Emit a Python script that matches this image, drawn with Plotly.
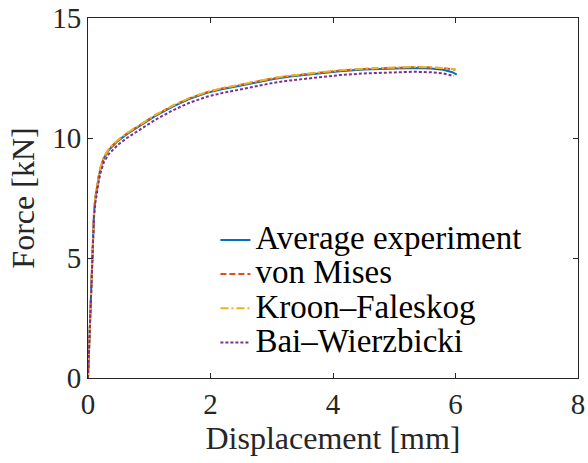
import plotly.graph_objects as go

# Average experiment
exp_d = [0, 0.02, 0.05, 0.075, 0.098, 0.12, 0.152, 0.18, 0.207, 0.26, 0.343, 0.48, 0.64, 0.87,
         1.1, 1.39, 1.65, 1.94, 2.2, 2.48, 2.75, 3.03, 3.3, 3.57, 3.85, 4.11, 4.5, 4.9, 5.31,
         5.6, 5.8, 5.95, 6.02]
exp_f = [0, 1.6, 4.0, 5.6, 6.87, 7.5, 8.05, 8.45, 8.75, 9.17, 9.51, 9.86, 10.17, 10.55,
         10.92, 11.32, 11.62, 11.88, 12.04, 12.18, 12.33, 12.46, 12.56, 12.64, 12.72, 12.78, 12.85, 12.89, 12.92,
         12.9, 12.84, 12.74, 12.64]

# von Mises
vm_d = [0, 0.02, 0.05, 0.075, 0.098, 0.12, 0.152, 0.18, 0.207, 0.26, 0.343, 0.48, 0.64, 0.87,
        1.1, 1.39, 1.65, 1.94, 2.2, 2.48, 2.75, 3.03, 3.3, 3.57, 3.85, 4.11, 4.5, 4.9, 5.31,
        5.6, 5.8, 6.0]
vm_f = [0, 1.6, 4.0, 5.6, 6.87, 7.52, 8.08, 8.48, 8.78, 9.2, 9.54, 9.89, 10.2, 10.58,
        10.95, 11.35, 11.65, 11.91, 12.07, 12.21, 12.36, 12.49, 12.59, 12.67, 12.75, 12.81, 12.88, 12.92, 12.95,
        12.94, 12.91, 12.84]

# Kroon-Faleskog
kf_d = [0, 0.02, 0.05, 0.075, 0.098, 0.12, 0.152, 0.18, 0.207, 0.26, 0.343, 0.48, 0.64, 0.87,
        1.1, 1.39, 1.65, 1.94, 2.2, 2.48, 2.75, 3.03, 3.3, 3.57, 3.85, 4.11, 4.5, 4.9, 5.31,
        5.6, 5.8, 6.0]
kf_f = [0, 1.6, 4.0, 5.6, 6.87, 7.53, 8.09, 8.5, 8.8, 9.22, 9.56, 9.9, 10.21, 10.59,
        10.96, 11.36, 11.66, 11.92, 12.08, 12.22, 12.37, 12.5, 12.6, 12.68, 12.76, 12.82, 12.89, 12.93, 12.96,
        12.95, 12.92, 12.86]

# Bai-Wierzbicki
bw_d = [0, 0.02, 0.05, 0.075, 0.098, 0.12, 0.152, 0.18, 0.207, 0.26, 0.343, 0.48, 0.64, 0.87,
        1.1, 1.39, 1.65, 1.94, 2.2, 2.48, 2.75, 3.03, 3.3, 3.57, 3.85, 4.11, 4.5, 4.9, 5.31,
        5.6, 5.8, 5.97]
bw_f = [0, 1.55, 3.9, 5.45, 6.7, 7.3, 7.85, 8.27, 8.57, 9.0, 9.34, 9.7, 10.01, 10.39,
        10.76, 11.16, 11.46, 11.72, 11.88, 12.02, 12.17, 12.3, 12.4, 12.48, 12.56, 12.62, 12.69, 12.73, 12.76,
        12.74, 12.69, 12.58]

series_names = ["Average experiment", "von Mises", "Kroon–Faleskog", "Bai–Wierzbicki"]
x_ticks = [0, 2, 4, 6, 8]
y_ticks = [0, 5, 10, 15]

FONT = "Liberation Serif"
AX = "#262626"


def legend_label(s):
    return '<span style="font-size:33px">' + s + '</span>'


fig = go.Figure()
fig.add_trace(go.Scatter(x=exp_d, y=exp_f, mode="lines", name=legend_label(series_names[0]),
                         line=dict(color="#0072BD", width=2)))
fig.add_trace(go.Scatter(x=vm_d, y=vm_f, mode="lines", name=legend_label(series_names[1]),
                         line=dict(color="#D95319", width=2, dash="6px,3px")))
fig.add_trace(go.Scatter(x=kf_d, y=kf_f, mode="lines", name=legend_label(series_names[2]),
                         line=dict(color="#EDB120", width=2, dash="8px,3px,2px,3px")))
fig.add_trace(go.Scatter(x=bw_d, y=bw_f, mode="lines", name=legend_label(series_names[3]),
                         line=dict(color="#7E2F8E", width=2, dash="3px,2px")))

axis_common = dict(showgrid=False, zeroline=False, showline=True, linecolor=AX, linewidth=1,
                   mirror="ticks", ticks="inside", ticklen=5, tickcolor=AX, tickwidth=1,
                   automargin=False,
                   tickfont=dict(family=FONT, size=29, color=AX))

fig.update_layout(
    width=588, height=463,
    margin=dict(l=88, r=10, t=18, b=85),
    paper_bgcolor="white", plot_bgcolor="white",
    font=dict(family=FONT, color=AX),
    xaxis=dict(range=[0, 8], tickvals=x_ticks, ticktext=[str(v) for v in x_ticks],
               title=dict(text="Displacement [mm]", font=dict(family=FONT, size=32, color=AX), standoff=4),
               **axis_common),
    yaxis=dict(range=[0, 15], tickvals=y_ticks, ticktext=[str(v) for v in y_ticks],
               title=dict(text="Force [kN]", font=dict(family=FONT, size=32, color=AX), standoff=8),
               **axis_common),
    legend=dict(x=0.26, y=0.445, xanchor="left", yanchor="top", bgcolor="rgba(0,0,0,0)",
                font=dict(family=FONT, size=24, color="black"), tracegroupgap=0),
    showlegend=True,
)

fig.write_html("out.html")
